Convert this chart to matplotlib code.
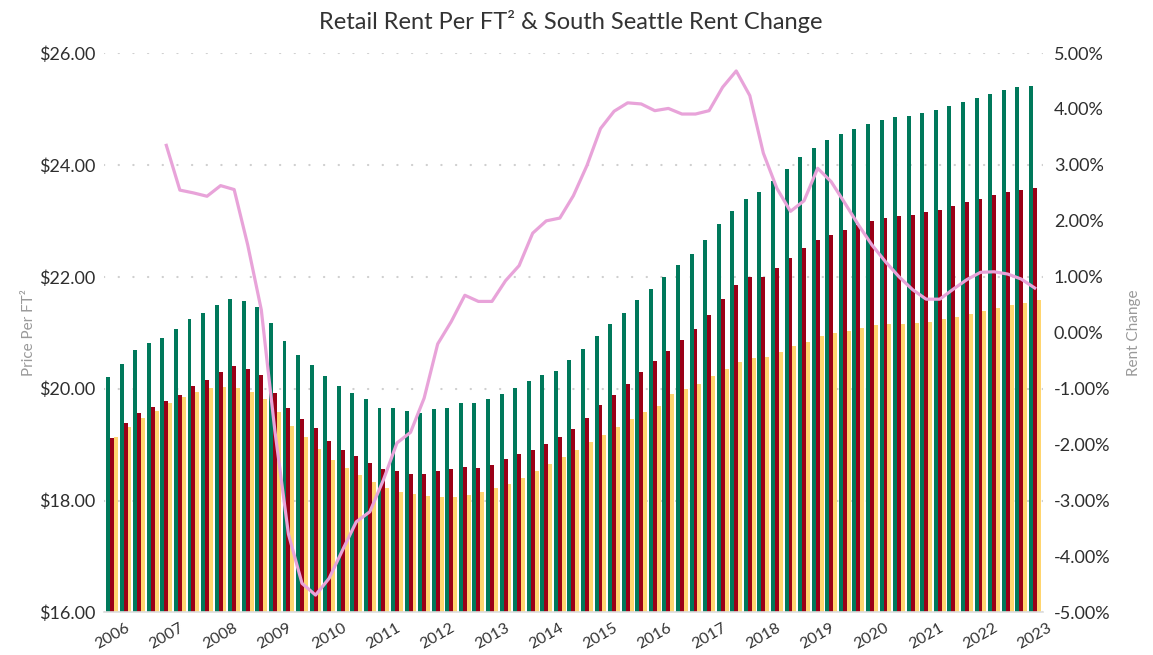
import numpy as np
import matplotlib.pyplot as plt
from matplotlib.ticker import FuncFormatter

plt.rcParams['font.family'] = ['Lato', 'DejaVu Sans']

# datos trimestrales, 2006 Q1 a 2023 Q1
year_labels = ['2006', '2007', '2008', '2009', '2010', '2011', '2012', '2013', '2014',
               '2015', '2016', '2017', '2018', '2019', '2020', '2021', '2022', '2023']

green_rent = [20.20, 20.45, 20.69, 20.82, 20.91, 21.06, 21.24, 21.35, 21.50, 21.61,
              21.56, 21.46, 21.18, 20.85, 20.61, 20.43, 20.22, 20.05, 19.93, 19.81,
              19.66, 19.65, 19.60, 19.57, 19.63, 19.66, 19.74, 19.74, 19.82, 19.91,
              20.01, 20.13, 20.25, 20.32, 20.51, 20.71, 20.94, 21.16, 21.36, 21.58,
              21.79, 22.00, 22.21, 22.41, 22.66, 22.95, 23.18, 23.39, 23.51, 23.72,
              23.92, 24.15, 24.31, 24.44, 24.56, 24.65, 24.74, 24.81, 24.85, 24.87,
              24.92, 24.99, 25.05, 25.13, 25.20, 25.27, 25.34, 25.39, 25.41]

red_rent = [19.12, 19.38, 19.56, 19.67, 19.78, 19.88, 20.05, 20.15, 20.29, 20.40,
            20.36, 20.24, 19.93, 19.66, 19.45, 19.29, 19.06, 18.90, 18.80, 18.68,
            18.57, 18.53, 18.48, 18.47, 18.53, 18.56, 18.60, 18.58, 18.63, 18.74,
            18.83, 18.90, 19.01, 19.13, 19.28, 19.48, 19.71, 19.88, 20.08, 20.29,
            20.49, 20.67, 20.87, 21.07, 21.32, 21.60, 21.86, 21.99, 22.00, 22.16,
            22.33, 22.51, 22.65, 22.75, 22.84, 22.92, 23.00, 23.05, 23.08, 23.10,
            23.15, 23.20, 23.26, 23.33, 23.39, 23.46, 23.51, 23.56, 23.59]

yellow_rent = [19.13, 19.31, 19.47, 19.60, 19.75, 19.85, 19.94, 20.01, 20.03, 20.01,
               19.94, 19.81, 19.58, 19.33, 19.13, 18.92, 18.72, 18.58, 18.46, 18.33,
               18.23, 18.16, 18.12, 18.09, 18.06, 18.06, 18.10, 18.15, 18.22, 18.29,
               18.40, 18.53, 18.65, 18.78, 18.90, 19.04, 19.17, 19.31, 19.46, 19.59,
               19.69, 19.90, 19.99, 20.09, 20.22, 20.35, 20.47, 20.54, 20.57, 20.66,
               20.76, 20.84, 20.94, 21.00, 21.03, 21.09, 21.13, 21.15, 21.16, 21.18,
               21.20, 21.24, 21.29, 21.34, 21.39, 21.44, 21.50, 21.54, 21.58]

# cambio anual (%) de South Seattle, desde 2007 Q1
rent_change = [3.35, 2.55, 2.50, 2.44, 2.63, 2.56, 1.57, 0.41, -1.75, -3.60,
               -4.48, -4.69, -4.39, -3.88, -3.38, -3.20, -2.63, -1.97, -1.78, -1.17,
               -0.20, 0.20, 0.67, 0.56, 0.56, 0.93, 1.20, 1.78, 2.00, 2.05,
               2.45, 2.99, 3.65, 3.96, 4.11, 4.09, 3.97, 4.01, 3.91, 3.91,
               3.97, 4.39, 4.68, 4.24, 3.21, 2.58, 2.17, 2.36, 2.94, 2.70,
               2.32, 1.93, 1.57, 1.27, 1.00, 0.77, 0.60, 0.60, 0.78, 0.95,
               1.08, 1.09, 1.05, 0.96, 0.80]

x = np.arange(len(green_rent))
x_line = x[len(x) - len(rent_change):]
w = 0.29

fig = plt.figure(figsize=(11.53, 6.55), dpi=100)
ax = fig.add_axes([0.0901, 0.065, 0.8144, 0.854])

ax.bar(x - w, np.array(green_rent) - 16, w, bottom=16, color='#00795B', zorder=2)
ax.bar(x, np.array(red_rent) - 16, w, bottom=16, color='#9A0017', zorder=2)
ax.bar(x + w, np.array(yellow_rent) - 16, w, bottom=16, color='#FFD56F', zorder=2)

ax.set_xlim(-0.6, 68.6)
ax.set_ylim(16, 26)
ax.set_yticks(np.arange(16, 26.1, 2))
ax.yaxis.set_major_formatter(FuncFormatter(lambda v, p: f'${v:.2f}'))
ax.set_xticks(x[::4])
ax.set_xticklabels(year_labels, rotation=30, ha='center', fontsize=11.5, color='#333333')
ax.tick_params(axis='both', length=0, pad=6)
ax.tick_params(axis='y', labelsize=13, labelcolor='#2e2e2e')
ax.grid(axis='y', color='#cfcfcf', linewidth=1.6, linestyle=(0, (0.1, 6.5)),
        dash_capstyle='round', zorder=0)
for s in ['top', 'right', 'left']:
    ax.spines[s].set_visible(False)
ax.spines['bottom'].set_color('#dddddd')
ax.spines['bottom'].set_linewidth(1.2)
ax.set_ylabel('Price Per FT²', color='#9a9a9a', fontsize=11, labelpad=2)

ax2 = ax.twinx()
ax2.plot(x_line, rent_change, color='#E8A3D9', linewidth=2.3, solid_joinstyle='round')
ax2.set_ylim(-5, 5)
ax2.set_yticks(np.arange(-5, 5.1, 1))
ax2.yaxis.set_major_formatter(FuncFormatter(lambda v, p: f'{v:.2f}%'))
ax2.tick_params(axis='y', length=0, pad=8, labelsize=13, labelcolor='#2e2e2e')
for s in ['top', 'right', 'left', 'bottom']:
    ax2.spines[s].set_visible(False)
ax2.set_ylabel('Rent Change', color='#9a9a9a', fontsize=11, labelpad=12)

fig.suptitle('Retail Rent Per FT² & South Seattle Rent Change', x=0.495, y=0.985,
             fontsize=17, color='#333333')

fig.savefig('out.png', dpi=100)
